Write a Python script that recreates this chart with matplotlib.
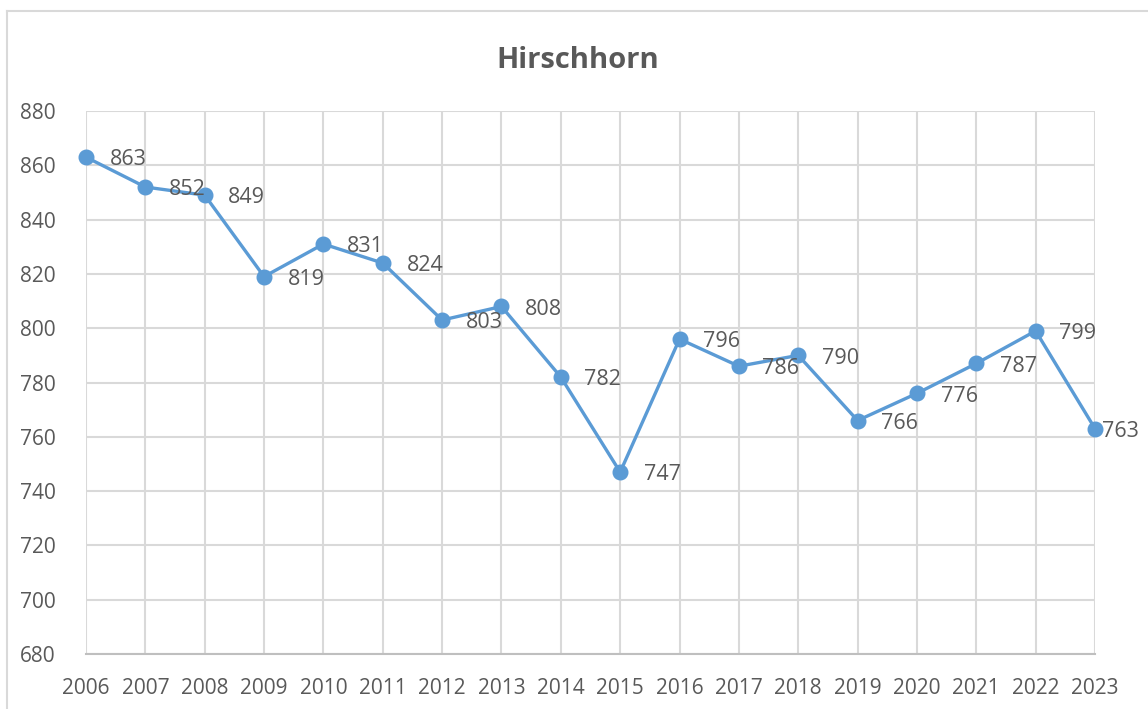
import matplotlib.pyplot as plt
from matplotlib.lines import Line2D

# Data
years = ['2006', '2007', '2008', '2009', '2010', '2011', '2012', '2013', '2014',
         '2015', '2016', '2017', '2018', '2019', '2020', '2021', '2022', '2023']
values = [863, 852, 849, 819, 831, 824, 803, 808, 782,
          747, 796, 786, 790, 766, 776, 787, 799, 763]
y_ticks = [680, 700, 720, 740, 760, 780, 800, 820, 840, 860, 880]

text_col = '#595959'
grid_col = '#D9D9D9'
line_col = '#5B9BD5'

plt.rcParams['font.family'] = ['Open Sans', 'DejaVu Sans']

fig = plt.figure(figsize=(11.48, 7.09), dpi=100)
ax = fig.add_axes([86 / 1148, 1 - 654 / 709, (1095 - 86) / 1148, (654 - 111) / 709])

x = list(range(len(years)))
ax.plot(x, values, color=line_col, linewidth=2.4, marker='o', markersize=10.5,
        zorder=3, clip_on=False)

# data labels to the right of each point
for i, v in enumerate(values):
    dx = 5 if i == len(values) - 1 else 17
    ax.annotate(str(v), (i, v), xytext=(dx, -2), textcoords='offset points',
                ha='left', va='center', fontsize=15.5, color=text_col,
                annotation_clip=False, zorder=4)

ax.set_xlim(0, len(years) - 1)
ax.set_ylim(680, 880)
ax.set_xticks(x)
ax.set_xticklabels(years)
ax.set_yticks(y_ticks)
ax.tick_params(axis='both', length=0, labelsize=15, colors=text_col)
ax.tick_params(axis='x', pad=17)
ax.tick_params(axis='y', pad=22)

ax.grid(True, color=grid_col, linewidth=1.5)
ax.set_axisbelow(True)
for side in ['top', 'right', 'left']:
    ax.spines[side].set_visible(False)
ax.spines['bottom'].set_color('#BFBFBF')
ax.spines['bottom'].set_linewidth(1.5)

fig.text(0.503, 1 - 61 / 709, 'Hirschhorn', ha='center', va='center',
         fontsize=21, fontweight='bold', color=text_col)

# outer chart border (left and top edges visible)
bx = 7 / 1148
by = 1 - 11 / 709
fig.add_artist(Line2D([bx, bx], [0, by], color=grid_col, linewidth=1.5,
                      transform=fig.transFigure))
fig.add_artist(Line2D([bx, 1], [by, by], color=grid_col, linewidth=1.5,
                      transform=fig.transFigure))

fig.savefig('out.png', dpi=100)
